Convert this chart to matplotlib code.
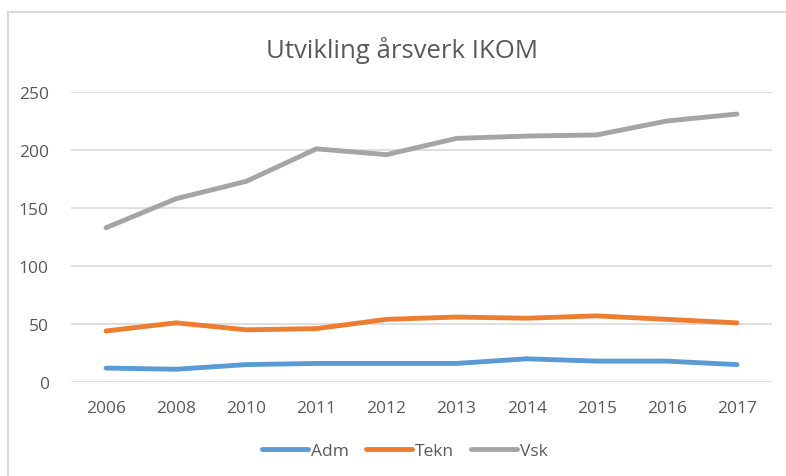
import matplotlib.pyplot as plt
from matplotlib.patches import Rectangle

years = ['2006', '2008', '2010', '2011', '2012', '2013', '2014', '2015', '2016', '2017']
adm = [12, 11, 15, 16, 16, 16, 20, 18, 18, 15]
tekn = [44, 51, 45, 46, 54, 56, 55, 57, 54, 51]
vsk = [133, 158, 173, 201, 196, 210, 212, 213, 225, 231]

plt.rcParams['font.family'] = ['Open Sans', 'DejaVu Sans']

fig = plt.figure(figsize=(7.86, 4.77), dpi=100)
W, H = 786, 477

# chart frame (extends past right/bottom edge)
fig.patches.append(Rectangle((8 / W, -0.1), 1.2, 1 - 13 / H + 0.1, transform=fig.transFigure,
                             fill=False, edgecolor='#d9d9d9', linewidth=1.5))

ax = fig.add_axes([71 / W, 1 - 383 / H, 701 / W, 290 / H])
x = list(range(len(years)))
ax.plot(x, adm, color='#5b9bd5', lw=3.5, solid_capstyle='round', label='Adm')
ax.plot(x, tekn, color='#ed7d31', lw=3.5, solid_capstyle='round', label='Tekn')
ax.plot(x, vsk, color='#a5a5a5', lw=3.5, solid_capstyle='round', label='Vsk')

ax.set_xlim(-0.5, len(years) - 0.5)
ax.set_ylim(0, 250)
ax.set_yticks([0, 50, 100, 150, 200, 250])
ax.set_xticks(x)
ax.set_xticklabels(years)
ax.grid(axis='y', color='#d9d9d9', linewidth=1.2)
ax.set_axisbelow(True)
for s in ax.spines.values():
    s.set_visible(False)
ax.tick_params(length=0, labelsize=12.5, colors='#595959')
ax.tick_params(axis='y', pad=16)
ax.tick_params(axis='x', pad=13)

fig.text(402 / W, 1 - 50 / H, 'Utvikling årsverk IKOM', ha='center', va='center',
         fontsize=18.5, color='#595959')

fig.legend(loc='center', bbox_to_anchor=(405 / W, 1 - 452 / H), ncol=3, frameon=False,
           fontsize=12.5, labelcolor='#595959', handlelength=2.65, handletextpad=0.15,
           columnspacing=1.0)

fig.savefig('out.png', dpi=100)
